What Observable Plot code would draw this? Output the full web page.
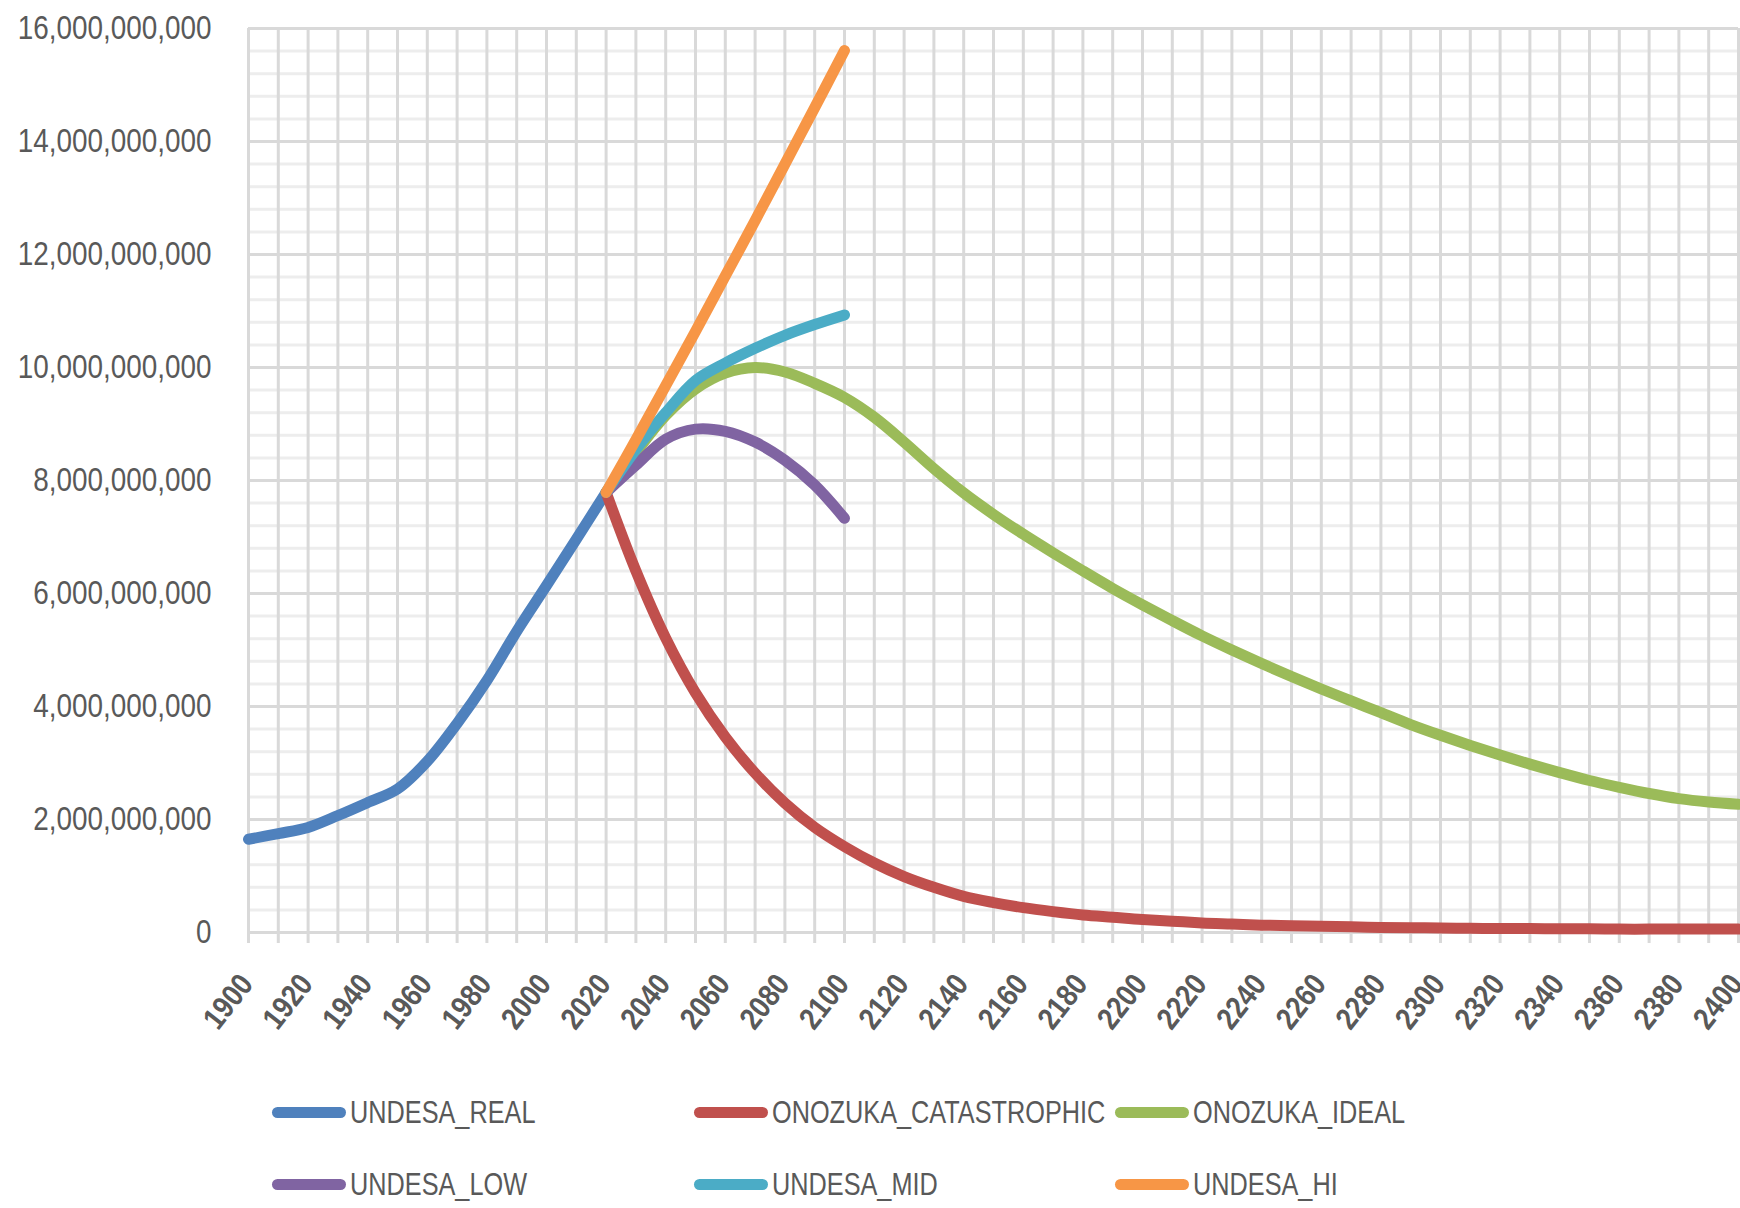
<!DOCTYPE html>
<html>
<head>
<meta charset="utf-8">
<script src="https://cdn.jsdelivr.net/npm/d3@7"></script>
<script src="https://cdn.jsdelivr.net/npm/@observablehq/plot@0.6"></script>
<style>
  html, body { margin: 0; padding: 0; background: #fff; }
  #wrap { position: relative; width: 1740px; height: 1208px; font-family: "Liberation Sans", Arial, sans-serif; }
  #legend { display: grid; grid-template-columns: 422px 421px 421px; grid-auto-rows: 72px; padding-left: 272px; padding-top: 11px; }
  .item { display: flex; align-items: center; height: 72px; }
  .sw { width: 74px; height: 11px; border-radius: 6px; margin-right: 4px; flex: none; }
  .lab { font-size: 32px; color: #595959; transform: scaleX(0.79); transform-origin: left center; white-space: nowrap; }
</style>
</head>
<body>
<div id="wrap"><div id="chart"></div><div id="legend"></div></div>
<script>
// ---- data (population, billions) ----
const UNIT = 1e9;
const realYears = [1900, 1910, 1920, 1930, 1940, 1950, 1960, 1970, 1980, 1990, 2000, 2010, 2020];
const undesaReal = [1.65, 1.75, 1.86, 2.07, 2.30, 2.54, 3.03, 3.70, 4.46, 5.33, 6.14, 6.96, 7.79];

const projYears = [2020, 2030, 2040, 2050, 2060, 2070, 2080, 2090, 2100];
const undesaLow = [7.79, 8.27, 8.73, 8.91, 8.87, 8.68, 8.36, 7.92, 7.33];
const undesaMid = [7.79, 8.55, 9.20, 9.77, 10.08, 10.34, 10.57, 10.76, 10.93];
const undesaHi  = [7.79, 8.72, 9.68, 10.64, 11.62, 12.60, 13.60, 14.60, 15.61];

const onoYears = [2020, 2030, 2040, 2050, 2060, 2070, 2080, 2090, 2100, 2110, 2120, 2130, 2140, 2150, 2160, 2170, 2180, 2190, 2200,
  2210, 2220, 2230, 2240, 2250, 2260, 2270, 2280, 2290, 2300, 2310, 2320, 2330, 2340, 2350, 2360, 2370, 2380, 2390, 2400];
const onozukaCatastrophic = [7.79, 6.40, 5.21, 4.24, 3.46, 2.82, 2.29, 1.86, 1.52, 1.23, 0.99, 0.80, 0.64, 0.53, 0.44, 0.37, 0.31, 0.27, 0.23,
  0.20, 0.17, 0.15, 0.13, 0.12, 0.11, 0.10, 0.09, 0.085, 0.08, 0.075, 0.07, 0.07, 0.065, 0.065, 0.06, 0.06, 0.06, 0.06, 0.06];
const onozukaIdeal = [7.79, 8.50, 9.15, 9.62, 9.90, 10.00, 9.92, 9.72, 9.47, 9.12, 8.68, 8.21, 7.78, 7.40, 7.05, 6.72, 6.40, 6.09, 5.80,
  5.52, 5.25, 5.00, 4.76, 4.53, 4.31, 4.10, 3.89, 3.68, 3.49, 3.31, 3.14, 2.98, 2.83, 2.69, 2.57, 2.46, 2.37, 2.31, 2.27];

const seriesNames = ["UNDESA_REAL", "ONOZUKA_CATASTROPHIC", "ONOZUKA_IDEAL", "UNDESA_LOW", "UNDESA_MID", "UNDESA_HI"];
const seriesColors = ["#4F81BD", "#C0504D", "#9BBB59", "#8064A2", "#4BACC6", "#F79646"];
const xTicks = d3.range(1900, 2401, 20);
const yTicks = d3.range(0, 16e9 + 1, 2e9);

// ---- table ----
const seriesDefs = [
  [seriesNames[0], realYears, undesaReal],
  [seriesNames[1], onoYears, onozukaCatastrophic],
  [seriesNames[2], onoYears, onozukaIdeal],
  [seriesNames[3], projYears, undesaLow],
  [seriesNames[4], projYears, undesaMid],
  [seriesNames[5], projYears, undesaHi]
];
const rows = seriesDefs.flatMap(([name, xs, vs]) => xs.map((x, i) => ({series: name, year: x, pop: vs[i] * UNIT})));

const xGrid = d3.range(1900, 2401, 10);
const yMinor = d3.range(0, 16e9 + 1, 4e8).filter(v => v % 2e9 !== 0);

const chart = Plot.plot({
  width: 1740,
  height: 1065,
  marginLeft: 248,
  marginRight: 2,
  marginTop: 28,
  marginBottom: 133,
  style: {fontFamily: "'Liberation Sans', Arial, sans-serif", background: "#fff"},
  x: {domain: [1900, 2400], axis: null},
  y: {domain: [0, 16e9], axis: null},
  color: {domain: seriesNames, range: seriesColors},
  marks: [
    Plot.ruleY(yMinor, {stroke: "#ededed", strokeWidth: 3}),
    Plot.ruleX(xGrid, {stroke: "#d9d9d9", strokeWidth: 3, insetBottom: -11}),
    Plot.ruleY(yTicks, {stroke: "#d9d9d9", strokeWidth: 3}),
    ...seriesNames.map(name => Plot.line(rows.filter(r => r.series === name), {
      x: "year", y: "pop", stroke: "series", strokeWidth: 11, curve: "catmull-rom",
      strokeLinecap: "round", strokeLinejoin: "round"
    })),
    Plot.text(yTicks, {y: d => d, frameAnchor: "left", textAnchor: "end", dx: -37, text: d => d3.format(",")(d),
      fontSize: 34, fill: "#595959", className: "ylab"}),
    Plot.text(xTicks, {x: d => d, frameAnchor: "bottom", rotate: -52, textAnchor: "end", dx: 6, dy: 52,
      text: d => String(d), fontSize: 31, fontWeight: "bold", fill: "#595959", className: "xlab"})
  ]
});
document.getElementById("chart").appendChild(chart);

function squeeze(sel, f) {
  chart.querySelectorAll(sel).forEach(t => {
    const w = t.getComputedTextLength();
    t.setAttribute("textLength", (w * f).toFixed(1));
    t.setAttribute("lengthAdjust", "spacingAndGlyphs");
  });
}
squeeze(".ylab text", 0.82);
squeeze(".xlab text", 0.86);

// ---- legend ----
const legend = document.getElementById("legend");
seriesNames.forEach((name, i) => {
  const item = document.createElement("div");
  item.className = "item";
  const sw = document.createElement("span");
  sw.className = "sw";
  sw.style.background = seriesColors[i];
  const lab = document.createElement("span");
  lab.className = "lab";
  lab.textContent = name;
  item.appendChild(sw);
  item.appendChild(lab);
  legend.appendChild(item);
});
</script>
</body>
</html>
